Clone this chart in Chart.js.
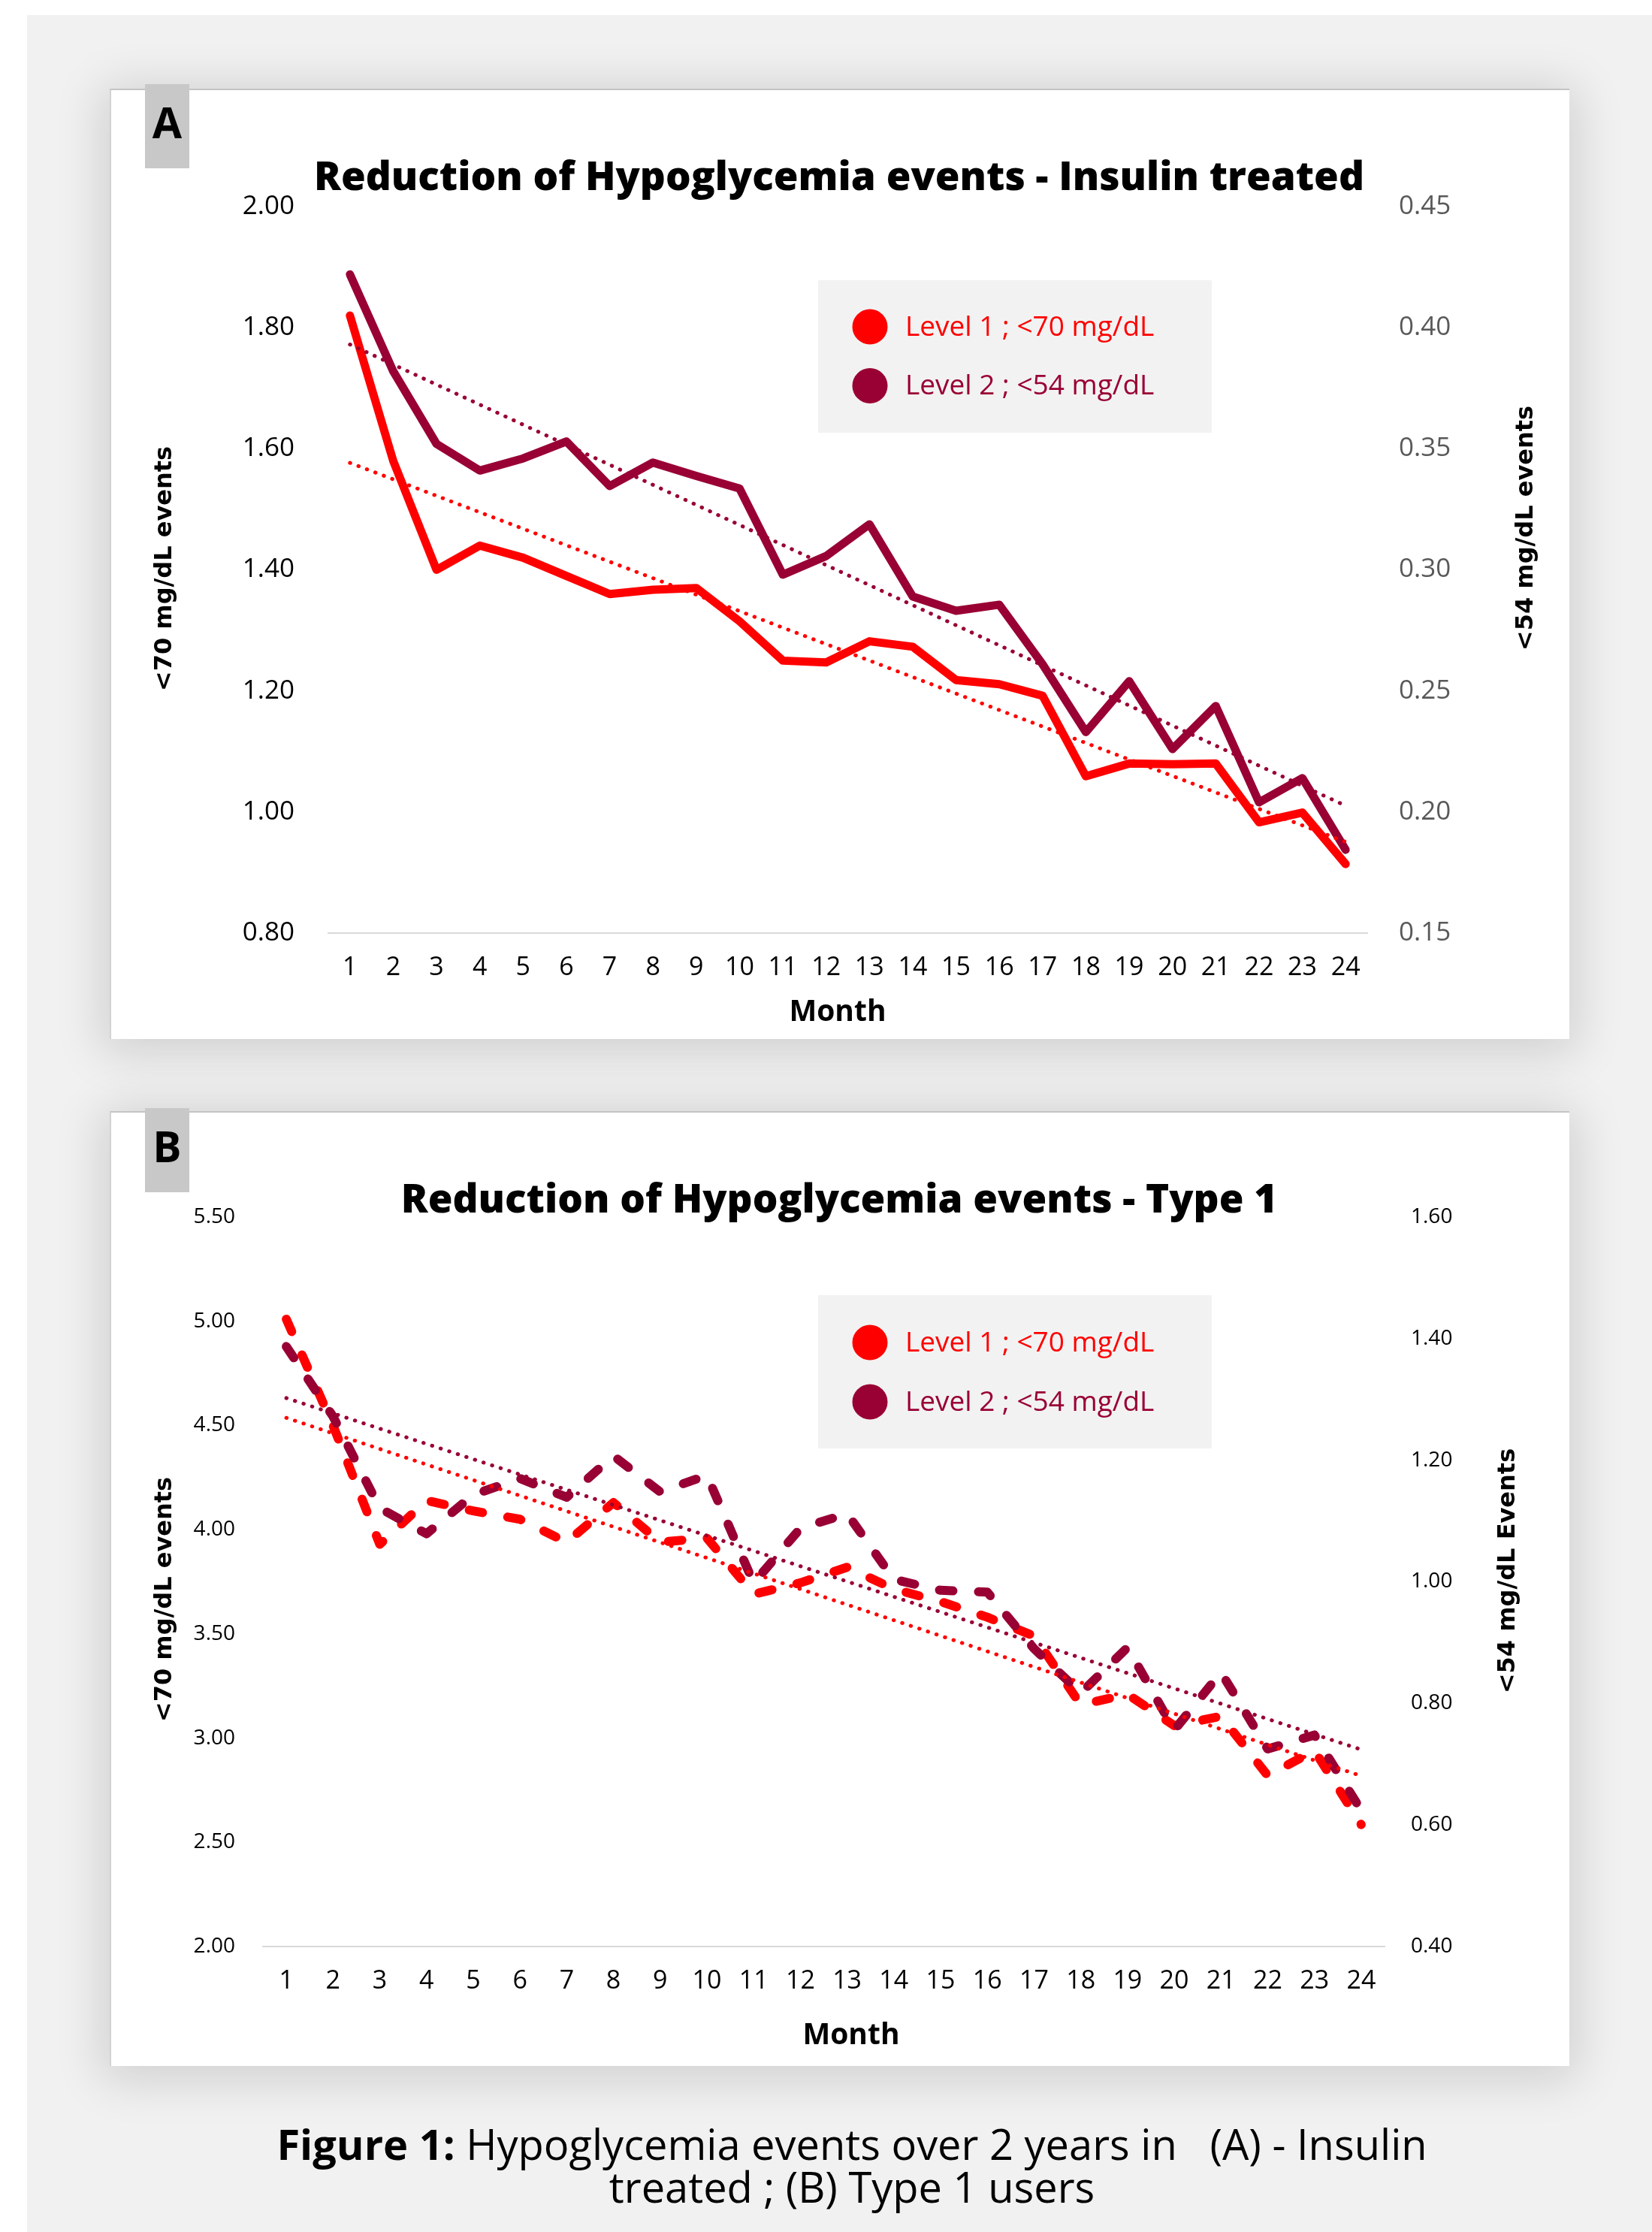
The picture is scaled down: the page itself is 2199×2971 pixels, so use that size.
<!DOCTYPE html>
<html>
<head>
<meta charset="utf-8">
<title>Hypoglycemia events over 2 years</title>
<script src="https://cdn.jsdelivr.net/npm/chart.js@4.4.1/dist/chart.umd.min.js"></script>
<style>
  html, body { margin: 0; padding: 0; background: #ffffff; }
  body { width: 2199px; height: 2971px; position: relative; overflow: hidden; font-family: "Open Sans", sans-serif; }
  #sheet { position: absolute; left: 36px; top: 20px; width: 2163px; height: 2951px; background: #f1f1f1; }
  .card { position: absolute; left: 146px; width: 1941px; background: #ffffff;
          border-top: 2px solid #c4c4c4; border-left: 2px solid #d2d2d2;
          box-shadow: 0 8px 60px 10px rgba(0,0,0,0.14); }
  canvas { position: absolute; left: 148px; }
  .tag { position: absolute; left: 193px; width: 59px; height: 112px; background: #c8c8c8;
         font: bold 57px "Open Sans", sans-serif; line-height: 100px; text-align: center; color: #000; }
  #caption { position: absolute; left: 134px; width: 2000px; top: 2825px; text-align: center;
             font: 56px "Open Sans", sans-serif; line-height: 57px; color: #000; white-space: pre; }
</style>
</head>
<body>
<div id="sheet"></div>

<div class="card" style="top:118px;height:1263px"></div>
<canvas id="chartA" width="1939" height="1261" style="top:120px"></canvas>
<div class="tag" style="top:112px">A</div>

<div class="card" style="top:1479px;height:1269px"></div>
<canvas id="chartB" width="1939" height="1267" style="top:1481px"></canvas>
<div class="tag" style="top:1475px">B</div>

<div id="caption"><b>Figure 1:</b> Hypoglycemia events over 2 years in   (A) - Insulin
treated ; (B) Type 1 users</div>

<script>
// ---- data ----
const months = ['1','2','3','4','5','6','7','8','9','10','11','12',
                '13','14','15','16','17','18','19','20','21','22','23','24'];

// (A) insulin treated
const insulinLevel1 = [1.82, 1.58, 1.40, 1.44, 1.42, 1.39, 1.36, 1.367, 1.37, 1.315, 1.25, 1.247,
                       1.282, 1.273, 1.218, 1.211, 1.192, 1.059, 1.080, 1.079, 1.080, 0.983, 0.999, 0.914];
const insulinLevel2 = [0.422, 0.382, 0.352, 0.341, 0.346, 0.353, 0.3346, 0.3443, 0.3388, 0.3336, 0.298, 0.3057,
                       0.3188, 0.289, 0.2831, 0.2856, 0.261, 0.233, 0.254, 0.226, 0.2438, 0.204, 0.214, 0.1844];

// (B) type 1
const type1Level1 = [5.01, 4.50, 3.93, 4.14, 4.09, 4.05, 3.94, 4.13, 3.94, 3.96, 3.69, 3.745,
                     3.82, 3.715, 3.655, 3.58, 3.49, 3.16, 3.21, 3.06, 3.105, 2.82, 2.94, 2.585];
const type1Level2 = [1.387, 1.272, 1.121, 1.079, 1.143, 1.170, 1.139, 1.207, 1.148, 1.175, 0.998, 1.088,
                     1.112, 1.004, 0.986, 0.983, 0.890, 0.817, 0.892, 0.756, 0.851, 0.725, 0.748, 0.624];

// tick values
const insulinLeftTicks  = [0.80, 1.00, 1.20, 1.40, 1.60, 1.80, 2.00];
const insulinRightTicks = [0.15, 0.20, 0.25, 0.30, 0.35, 0.40, 0.45];
const type1LeftTicks    = [2.00, 2.50, 3.00, 3.50, 4.00, 4.50, 5.00, 5.50];
const type1RightTicks   = [0.40, 0.60, 0.80, 1.00, 1.20, 1.40, 1.60];

const level1Label = 'Level 1 ; <70 mg/dL';
const level2Label = 'Level 2 ; <54 mg/dL';
const RED = '#ff0000';
const MAROON = '#990033';

// least-squares linear trend over the month index
function linearTrend(values) {
  const n = values.length;
  let sx = 0, sy = 0, sxy = 0, sxx = 0;
  values.forEach((y, i) => { const x = i + 1; sx += x; sy += y; sxy += x * y; sxx += x * x; });
  const slope = (n * sxy - sx * sy) / (n * sxx - sx * sx);
  const icpt = (sy - slope * sx) / n;
  return values.map((_, i) => icpt + slope * (i + 1));
}

// titles, axis names and legend drawn on the canvas
const panelText = {
  id: 'panelText',
  afterDraw(chart, args, o) {
    const ctx = chart.ctx;
    ctx.save();
    ctx.fillStyle = '#000';
    ctx.textAlign = 'center';
    ctx.textBaseline = 'alphabetic';
    ctx.font = `800 ${o.titleSize}px "Open Sans"`;
    ctx.fillText(o.title, o.titleX, o.titleY);

    ctx.font = `bold ${o.axisSize}px "DejaVu Sans"`;
    ctx.textBaseline = 'middle';
    [[o.leftTitle, o.leftX, o.leftY], [o.rightTitle, o.rightX, o.rightY]].forEach(([t, x, y]) => {
      ctx.save();
      ctx.translate(x, y);
      ctx.rotate(-Math.PI / 2);
      ctx.fillText(t, 0, 0);
      ctx.restore();
    });

    ctx.font = `bold ${o.xTitleSize}px "Open Sans"`;
    ctx.fillText(o.xTitle, o.xTitleX, o.xTitleY);

    const lg = o.legend;
    ctx.fillStyle = '#f2f2f2';
    ctx.fillRect(lg.x, lg.y, lg.w, lg.h);
    ctx.textAlign = 'left';
    ctx.font = `${lg.size}px "Open Sans"`;
    lg.items.forEach((dsIndex, i) => {
      const ds = chart.data.datasets[dsIndex];
      const cy = lg.firstY + i * lg.gap;
      ctx.fillStyle = ds.borderColor;
      ctx.beginPath();
      ctx.arc(lg.dotX, cy, lg.r, 0, Math.PI * 2);
      ctx.fill();
      ctx.fillText(ds.label, lg.textX, cy + 1);
    });
    ctx.restore();
  }
};

function lineSet(label, data, color, axis, dash, width) {
  return {
    label, data, yAxisID: axis,
    borderColor: color, backgroundColor: color,
    borderWidth: width, borderDash: dash,
    borderCapStyle: 'round', borderJoinStyle: 'round',
    pointRadius: 0, tension: 0, fill: false
  };
}

function buildChart(id, s) {
  const tickFont = (size) => ({ family: 'Open Sans', size });
  return new Chart(document.getElementById(id), {
    type: 'line',
    data: {
      labels: months,
      datasets: [
        lineSet('Level 2 trend', linearTrend(s.level2), MAROON, 'y2', [0.5, 11.5], 5),
        lineSet('Level 1 trend', linearTrend(s.level1), RED, 'y', [0.5, 11.5], 5),
        lineSet(level2Label, s.level2, MAROON, 'y2', s.dash, s.lineWidth),
        lineSet(level1Label, s.level1, RED, 'y', s.dash, s.lineWidth)
      ]
    },
    options: {
      responsive: false,
      animation: false,
      devicePixelRatio: 1,
      layout: { padding: { top: s.area.top, left: 0, right: 0, bottom: 0 } },
      plugins: { legend: { display: false }, tooltip: { enabled: false }, title: { display: false },
                 panelText: s.text },
      scales: {
        x: {
          type: 'category', offset: true,
          grid: { display: false, drawTicks: false },
          border: { display: true, color: '#d9d9d9', width: 2 },
          ticks: { font: tickFont(s.xTickSize), color: '#000', padding: s.xPad, maxRotation: 0, autoSkip: false },
          afterFit(sc) { sc.height = s.area.bottomSpace; }
        },
        y: {
          position: 'left', min: s.leftTicks[0], max: s.leftTicks[s.leftTicks.length - 1],
          grid: { display: false, drawTicks: false }, border: { display: false },
          ticks: { font: tickFont(s.yTickSize), color: '#000', padding: s.leftPad, callback: v => Number(v).toFixed(2) },
          afterBuildTicks(sc) { sc.ticks = s.leftTicks.map(v => ({ value: v })); },
          afterFit(sc) { sc.width = s.area.left; }
        },
        y2: {
          position: 'right', min: s.rightTicks[0], max: s.rightTicks[s.rightTicks.length - 1],
          grid: { display: false, drawTicks: false }, border: { display: false },
          ticks: { font: tickFont(s.yTickSize), color: s.rightColor, padding: s.rightPad, callback: v => Number(v).toFixed(2) },
          afterBuildTicks(sc) { sc.ticks = s.rightTicks.map(v => ({ value: v })); },
          afterFit(sc) { sc.width = s.area.rightSpace; }
        }
      }
    },
    plugins: [panelText]
  });
}

buildChart('chartA', {
  level1: insulinLevel1, level2: insulinLevel2,
  leftTicks: insulinLeftTicks, rightTicks: insulinRightTicks,
  dash: [], lineWidth: 11,
  area: { top: 155, left: 289, rightSpace: 267, bottomSpace: 139 },
  xTickSize: 34, yTickSize: 35, xPad: 26, leftPad: 45, rightPad: 42, rightColor: '#595959',
  text: {
    title: 'Reduction of Hypoglycemia events - Insulin treated', titleSize: 53, titleX: 969, titleY: 133,
    axisSize: 32, leftTitle: '<70 mg/dL events', leftX: 72, leftY: 637,
    rightTitle: '<54 mg/dL events', rightX: 1884, rightY: 583,
    xTitle: 'Month', xTitleSize: 39, xTitleX: 967, xTitleY: 1228,
    legend: { x: 941, y: 253, w: 524, h: 203, size: 37, dotX: 1010, r: 23.5, textX: 1057,
              firstY: 315, gap: 78.5, items: [3, 2] }
  }
});

buildChart('chartB', {
  level1: type1Level1, level2: type1Level2,
  leftTicks: type1LeftTicks, rightTicks: type1RightTicks,
  dash: [18, 34], lineWidth: 12,
  area: { top: 139, left: 202, rightSpace: 244, bottomSpace: 157 },
  xTickSize: 34, yTickSize: 28, xPad: 26, leftPad: 37, rightPad: 35, rightColor: '#000',
  text: {
    title: 'Reduction of Hypoglycemia events - Type 1', titleSize: 53, titleX: 969, titleY: 133,
    axisSize: 32, leftTitle: '<70 mg/dL events', leftX: 72, leftY: 648,
    rightTitle: '<54 mg/dL Events', rightX: 1860, rightY: 610,
    xTitle: 'Month', xTitleSize: 39, xTitleX: 985, xTitleY: 1229,
    legend: { x: 941, y: 243, w: 524, h: 204, size: 37, dotX: 1010, r: 23.5, textX: 1057,
              firstY: 306, gap: 79, items: [3, 2] }
  }
});
</script>
</body>
</html>
